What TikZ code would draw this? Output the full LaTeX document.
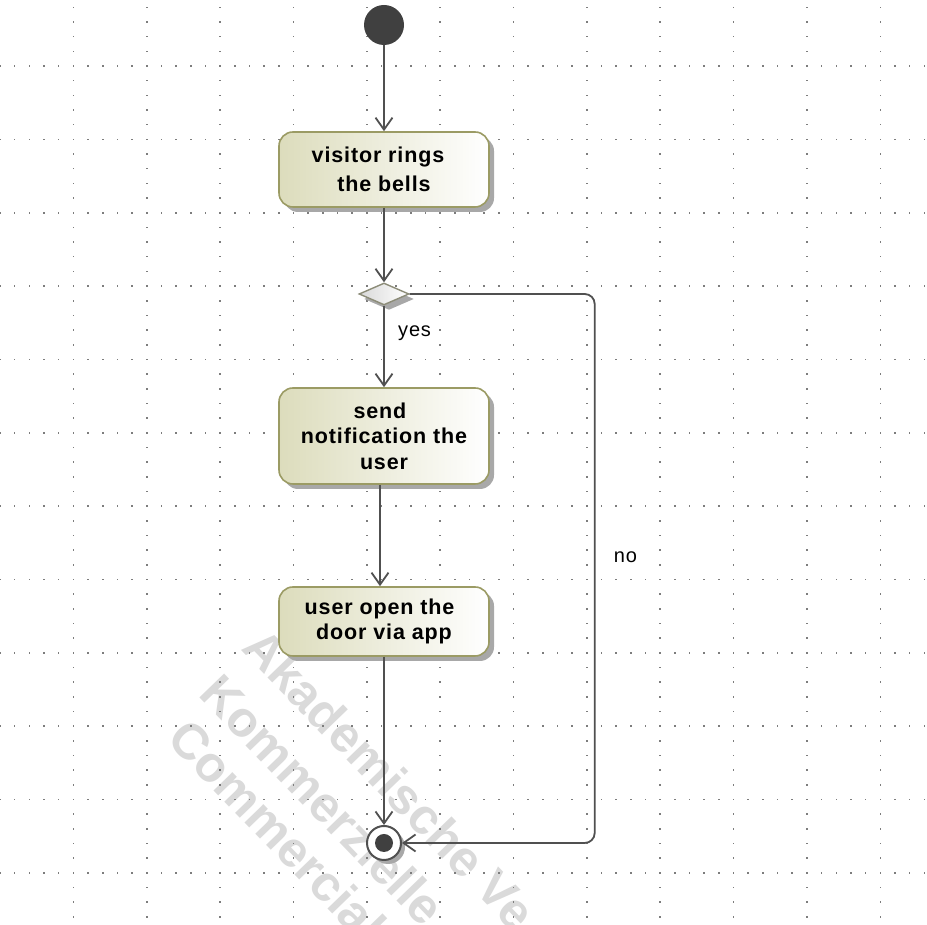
\documentclass[tikz,border=0pt]{standalone}
\usepackage{fontspec}
\setmainfont{Liberation Sans}
\newfontfamily\diagfont[LetterSpace=4]{Liberation Sans}
\usetikzlibrary{arrows.meta,shapes.geometric,shadows}

\definecolor{actleft}{RGB}{220,220,188}
\definecolor{actborder}{RGB}{155,155,100}
\definecolor{decborder}{RGB}{140,140,120}
\definecolor{flowline}{RGB}{80,80,80}
\definecolor{darkdot}{RGB}{64,64,64}
\definecolor{griddot}{RGB}{125,125,125}
\definecolor{stamp}{RGB}{218,218,218}
\definecolor{shadowgray}{RGB}{168,168,168}

\tikzset{
  action/.style={rectangle, rounded corners=14pt, draw=actborder, line width=1.6pt,
    left color=actleft, right color=white, minimum width=210pt, inner sep=2pt, align=center,
    font=\diagfont\bfseries\fontsize{21.5}{25.5}\selectfont,
    drop shadow={shadow xshift=5pt, shadow yshift=-5pt, fill=shadowgray, opacity=1}},
  flow/.style={draw=flowline, line width=1.8pt, -{Straight Barb[length=12pt,width=17pt]}},
  guard/.style={font=\diagfont\fontsize{20}{24}\selectfont, anchor=west},
  stampline/.style={text=stamp, font=\bfseries\fontsize{50}{60}\selectfont,
    anchor=base west, rotate=-46, inner sep=0pt}
}

\begin{document}
\begin{tikzpicture}[x=1pt,y=1pt]
\useasboundingbox (0,0) rectangle (927,925);
% watermark
\begin{scope}
\clip (0,0) rectangle (927,925);
\node[stampline] (stampA) at (240,276) {Akademische Ve};
\node[stampline] (stampK) at (197,230) {Kommerzielle};
\node[stampline] (stampC) at (165,185) {Commercial};
\end{scope}
% dotted grid
\foreach \i in {1,...,12}
  \foreach \j in {-4,...,58}
    \fill[griddot] ({73.36*\i-0.8},{859-14.67*\j-0.8}) rectangle ++(1.6,1.6);
\foreach \k in {0,...,11}
  \foreach \m in {0,...,63}
    \fill[griddot] ({14.672*\m-0.8},{859-73.36*\k-0.8}) rectangle ++(1.6,1.6);
% nodes
\node[circle, fill=darkdot, minimum size=40pt, inner sep=0pt] (init) at (384,900) {};
\node[action, minimum height=75pt, font=\diagfont\bfseries\fontsize{21.5}{29}\selectfont]
  (ring) at (384,755.5) {visitor rings\hspace*{12pt}\\the bells};
\node[diamond, draw=decborder, line width=1.4pt, minimum width=50pt, minimum height=22pt,
  inner sep=0pt, left color=gray!30, right color=white,
  drop shadow={shadow xshift=5pt, shadow yshift=-5pt, fill=shadowgray, opacity=1}]
  (dec) at (384,631) {};
\node[action, minimum height=96pt] (notify) at (384,489)
  {send\hspace*{8pt}\\notification the\hspace*{10pt}\\user};
\node[action, minimum height=69pt] (open) at (384,303.5)
  {user open the\hspace*{9pt}\\door via app};
\node[circle, draw=flowline, line width=2pt, fill=white, minimum size=34pt, inner sep=0pt,
  drop shadow={shadow xshift=4pt, shadow yshift=-4pt, fill=shadowgray, opacity=1}]
  (final) at (384,82) {};
\fill[darkdot] (final.center) circle [radius=9pt];
% flows
\draw[flow] (init) -- (ring);
\draw[flow] (ring) -- (dec);
\draw[flow] (dec) -- node[guard, pos=0.34, xshift=10pt] {yes} (notify);
\draw[flow] ([xshift=-4pt]notify.south) -- ([xshift=-4pt]open.north);
\draw[flow] (open) -- (final);
\draw[flow, rounded corners=10pt] (dec.east) -- ++(185,0)
  |- node[guard, pos=0.24, xshift=15pt] {no} (final.east);
\end{tikzpicture}
\end{document}
